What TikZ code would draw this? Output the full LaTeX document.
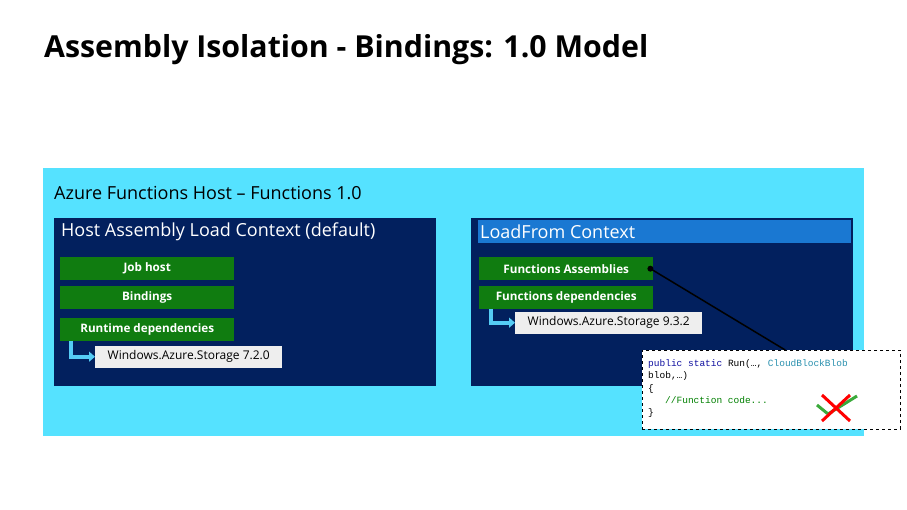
\documentclass[tikz,border=0pt]{standalone}
\usepackage{fontspec}
\setmainfont{Open Sans}
\setmonofont{Liberation Mono}
\usetikzlibrary{positioning,arrows.meta}
\definecolor{hostcyan}{HTML}{55E2FF}
\definecolor{ctxnavy}{HTML}{02205E}
\definecolor{asmgreen}{HTML}{107C10}
\definecolor{hdrblue}{HTML}{1A78D2}
\definecolor{pkggray}{HTML}{EEEEEE}
\definecolor{arrowcyan}{HTML}{55CCF5}
\definecolor{kwblue}{HTML}{1010A0}
\definecolor{typeteal}{HTML}{2B91AF}
\definecolor{cmtgreen}{HTML}{008000}
\definecolor{tickgreen}{HTML}{3BAA3B}

\begin{document}
\begin{tikzpicture}[x=1pt,y=-1pt,
  ctxbox/.style={fill=ctxnavy,anchor=north west,inner sep=0pt,minimum width=382pt,minimum height=168pt},
  ctxtitle/.style={text=white,anchor=west,inner sep=0pt,font=\fontsize{18}{20}\selectfont},
  asmbox/.style={fill=asmgreen,text=white,font=\fontsize{11.7}{14}\selectfont\bfseries,minimum width=174pt,minimum height=23pt,inner sep=0pt,anchor=north west},
  pkgbox/.style={fill=pkggray,font=\fontsize{12}{14}\selectfont,minimum width=187pt,minimum height=22pt,inner sep=0pt,anchor=north west},
  deparrow/.style={draw=arrowcyan,line width=4pt,-{Triangle[length=6pt,width=10pt]}}
]
\useasboundingbox[fill=white] (0,0) rectangle (907,510);

% title
\node[anchor=west,inner sep=0pt,font=\fontsize{30.3}{34}\selectfont\bfseries] (title) at (44,50) {Assembly Isolation - Bindings: 1.0 Model};

% host
\node[fill=hostcyan,anchor=north west,inner sep=0pt,minimum width=821pt,minimum height=268pt] (host) at (43,168) {};
\node[anchor=west,inner sep=0pt,font=\fontsize{18}{20}\selectfont] (hosttitle) at (54,193) {Azure Functions Host -- Functions 1.0};

% default context
\node[ctxbox] (hostctx) at (54,218) {};
\node[ctxtitle] (hostctxtitle) at (61,232) {Host Assembly Load Context (default)};
\node[asmbox] (jobhost) at (60,257) {Job host};
\node[asmbox] (bindings) at (60,286) {Bindings};
\node[asmbox] (runtime) at (60,317.5) {Runtime dependencies};
\node[pkgbox] (oldstorage) at (95,345.5) {Windows.Azure.Storage 7.2.0};
\draw[deparrow] ([xshift=11pt]runtime.south west) |- (oldstorage.west);

% loadfrom context
\node[ctxbox] (loadctx) at (471,218) {};
\node[fill=hdrblue,anchor=north west,inner sep=0pt,minimum width=373pt,minimum height=23pt] (loadhdr) at (478,220) {};
\node[ctxtitle] (loadctxtitle) at (480,231.5) {LoadFrom Context};
\node[asmbox] (fnasm) at (479,257) {Functions Assemblies};
\node[asmbox] (fndeps) at (479,286) {Functions dependencies};
\node[pkgbox] (newstorage) at (515,311.5) {Windows.Azure.Storage 9.3.2};
\draw[deparrow] ([xshift=12pt]fndeps.south west) |- (newstorage.west);

% code sample
\node[draw,dashed,fill=white,anchor=north west,inner sep=0pt,minimum width=258pt,minimum height=79pt] (code) at (642,350) {};
\node[anchor=north west,inner sep=0pt,align=left,font=\fontsize{9.5}{12.3}\ttfamily] (codetext) at (648,359.5) {%
{\color{kwblue}public static} Run(…, {\color{typeteal}CloudBlockBlob}\\
blob,…)\\
\{\\
\hspace*{17pt}{\color{cmtgreen}//Function code...}\\
\}};
\node[circle,fill=black,inner sep=0pt,minimum size=6pt] (asmdot) at ([xshift=-3pt]fnasm.east) {};
\draw[line width=1.5pt] (asmdot.center) -- ([xshift=14pt]code.north);

% no match
\draw[tickgreen,line width=3pt] (817,405) -- (828,414) -- (857,396);
\draw[red,line width=3pt] (822,395) -- (850,421);
\draw[red,line width=3pt] (850,395) -- (822,421);
\end{tikzpicture}
\end{document}
